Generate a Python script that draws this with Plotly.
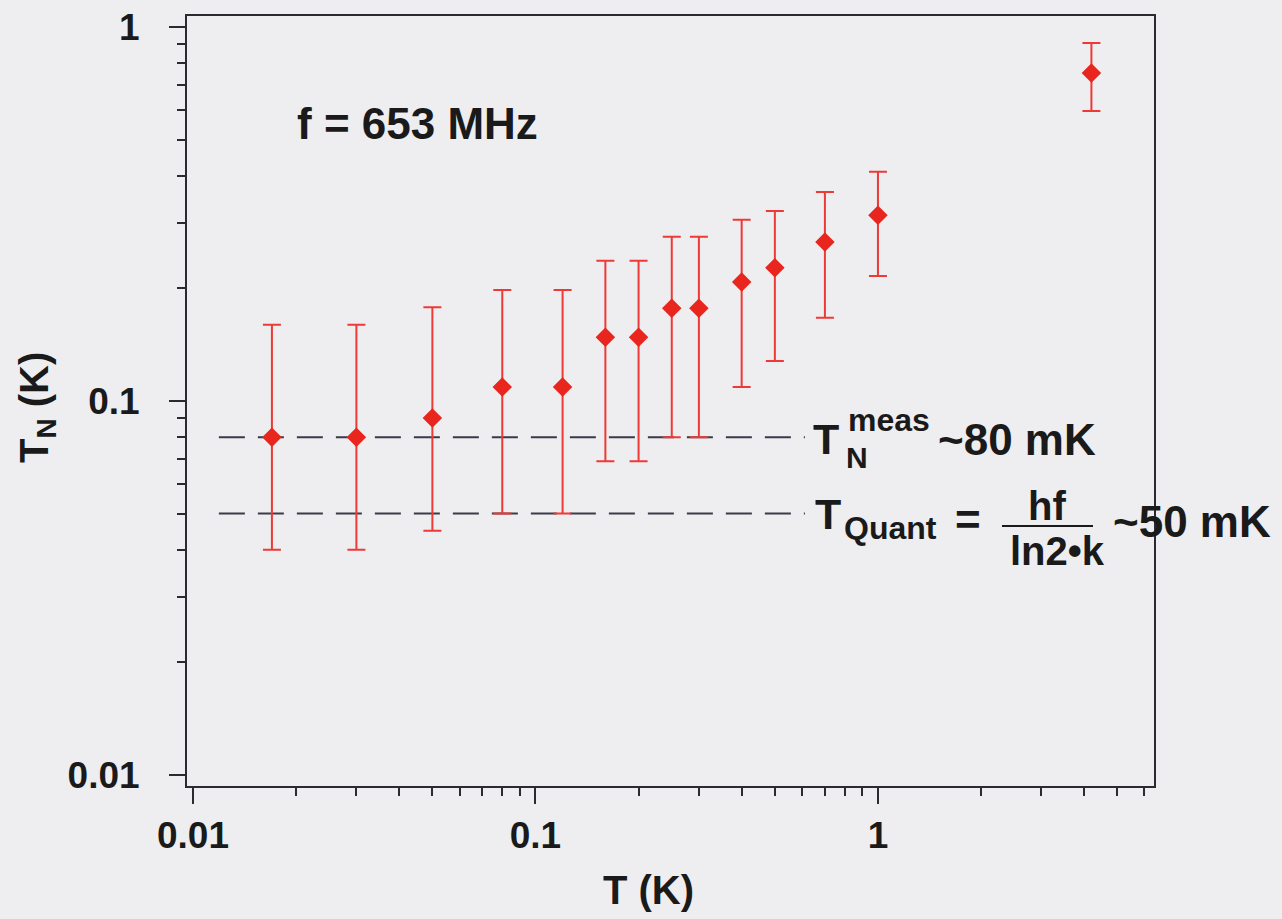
import plotly.graph_objects as go

# ---- data ----
T_K = [0.017, 0.03, 0.05, 0.08, 0.12, 0.16, 0.2, 0.25, 0.3, 0.4, 0.5, 0.7, 1.0, 4.2]
TN_K = [0.080, 0.080, 0.090, 0.109, 0.109, 0.148, 0.148, 0.177, 0.177, 0.208, 0.227, 0.266, 0.314, 0.753]
TN_upper = [0.160, 0.160, 0.178, 0.198, 0.198, 0.237, 0.237, 0.275, 0.275, 0.305, 0.322, 0.362, 0.410, 0.906]
TN_lower = [0.040, 0.040, 0.045, 0.050, 0.050, 0.069, 0.069, 0.080, 0.080, 0.109, 0.128, 0.167, 0.216, 0.596]

ref_x = [0.0119, 0.612]
T_meas = 0.08
T_quant = 0.05

x_tickvals = [0.01, 0.1, 1]
x_ticktext = ["0.01", "0.1", "1"]
y_tickvals = [0.01, 0.1, 1]
y_ticktext = ["0.01", "0.1", "1"]
minor_x = [m * d for d in (0.01, 0.1, 1) for m in range(2, 10) if m * d < 6.5]
minor_y = [m * d for d in (0.01, 0.1) for m in range(2, 10)]

BG = "#eeeef0"
RED = "#e8261e"
AXC = "#2a2a30"
FONT = "Liberation Sans"

# plot area in pixels
L, R, TOP, BOT = 187, 1154, 16, 786
W, H = 1282, 919


def px(x, y):
    return (x - L) / (R - L), (BOT - y) / (BOT - TOP)


fig = go.Figure()

for yv in (T_meas, T_quant):
    fig.add_trace(go.Scatter(
        x=ref_x, y=[yv, yv], mode="lines",
        line=dict(color="#3a3a48", width=2, dash="26px,13px"),
        showlegend=False, hoverinfo="skip"))

err_plus = [u - v for u, v in zip(TN_upper, TN_K)]
err_minus = [v - l for v, l in zip(TN_K, TN_lower)]

fig.add_trace(go.Scatter(
    x=T_K, y=TN_K, mode="markers",
    marker=dict(symbol="diamond", size=15, color=RED, line=dict(width=0)),
    error_y=dict(type="data", array=err_plus, arrayminus=err_minus,
                 color="#ee3a36", thickness=2, width=9),
    showlegend=False))

axis_common = dict(
    type="log", showgrid=False, zeroline=False,
    showline=True, linecolor=AXC, linewidth=2, mirror=True,
    ticks="outside", ticklen=16, tickwidth=2, tickcolor=AXC,
    tickfont=dict(family=FONT, size=37, color="#1a1a1a", weight="bold"),
)

fig.update_xaxes(**axis_common, range=[-2.0175, 0.806],
                 tickvals=x_tickvals, ticktext=x_ticktext,
                 minor=dict(tickvals=minor_x, ticks="outside", ticklen=8,
                            tickwidth=2, tickcolor=AXC))
fig.update_yaxes(**axis_common, range=[-2.0294, 0.0294],
                 tickvals=y_tickvals, ticktext=y_ticktext,
                 ticklabelstandoff=22,
                 minor=dict(tickvals=minor_y, ticks="outside", ticklen=8,
                            tickwidth=2, tickcolor=AXC))

annots = []


def add_text(text, x, y, size, xanchor="left", yanchor="middle", angle=0):
    xp, yp = px(x, y)
    annots.append(dict(
        text=text, x=xp, y=yp, xref="paper", yref="paper",
        xanchor=xanchor, yanchor=yanchor, showarrow=False, textangle=angle,
        font=dict(family=FONT, size=size, color="#1a1a1a", weight="bold")))


add_text("f = 653 MHz", 295, 123, 44)
add_text("T", 811, 439, 43)
add_text("meas", 846, 420, 32)
add_text("N", 844, 457, 30)
add_text("~80 mK", 936, 439, 44)
add_text("T", 813, 514, 43)
add_text("Quant", 842, 528, 32)
add_text("=", 968, 519, 44, xanchor="center")
add_text("hf", 1047, 506, 40, xanchor="center")
add_text("ln2•k", 1057, 551, 40, xanchor="center")
add_text("~50 mK", 1111, 521, 44)
add_text("T (K)", 648, 890, 40, xanchor="center")
add_text("T<sub>N</sub> (K)", 37, 408, 40, xanchor="center", angle=-90)

fx0, fy0 = px(1002, 526)
fx1, _ = px(1093, 526)

fig.update_layout(
    width=W, height=H,
    margin=dict(l=L, r=W - R, t=TOP, b=H - BOT, autoexpand=False),
    paper_bgcolor=BG, plot_bgcolor=BG,
    annotations=annots,
    shapes=[dict(type="line", xref="paper", yref="paper",
                 x0=fx0, x1=fx1, y0=fy0, y1=fy0,
                 line=dict(color="#1a1a1a", width=2))],
)

fig.write_html("out.html")
